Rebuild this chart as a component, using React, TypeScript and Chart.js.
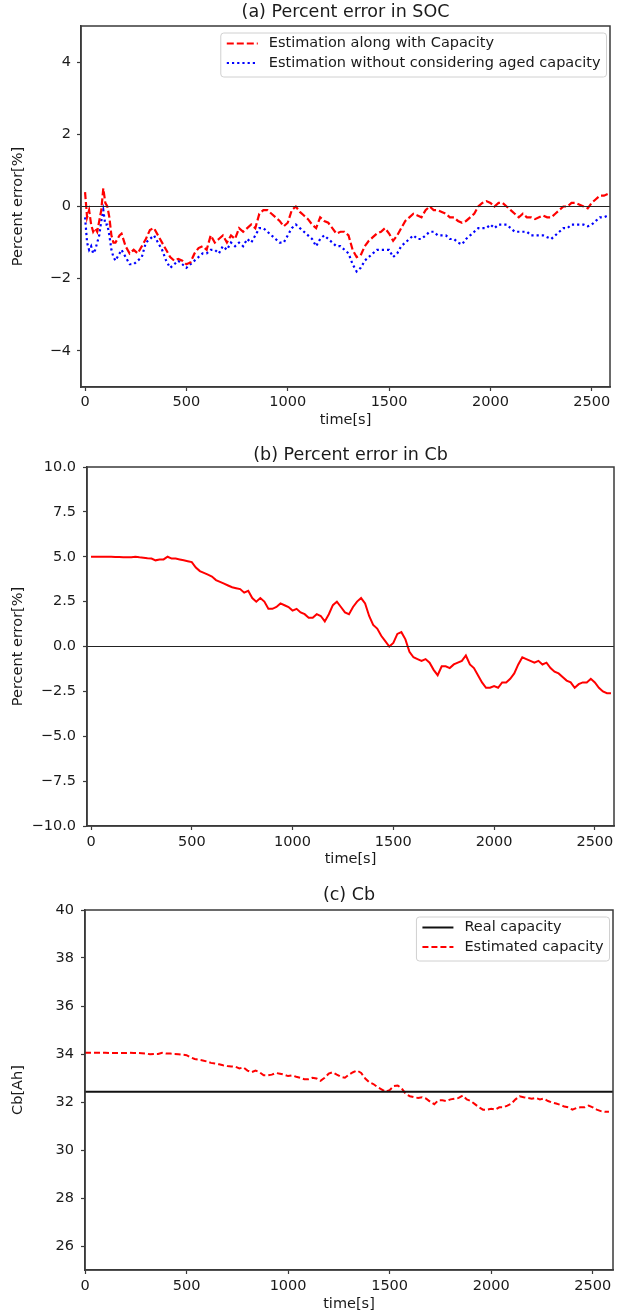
import React, { useEffect, useRef } from "react";
import { Chart, registerables } from "chart.js";

Chart.register(...registerables);

const FONT = "'DejaVu Sans', 'Liberation Sans', sans-serif";
const TEXT = "#1a1a1a";
const AXIS = "#3a3a3a";

// ---------------- (a) Percent error in SOC ----------------
const socTimes: number[] = [
  0, 10, 20, 30, 40, 50, 60, 70, 80, 90, 100, 110, 120, 130, 140, 150, 160, 170, 180,
  ...Array.from({ length: 120 }, (_, i) => 200 + i * 20),
];
const socErrWithCapacity: number[] = [
  0.4, -0.3, -0.1, -0.5, -0.7, -0.6, -0.7, -0.4, -0.1, 0.5, 0.1, 0.0, -0.3, -0.8, -1.0, -1.0, -0.9, -0.8, -0.75,
  -1.1, -1.3, -1.2, -1.3, -1.1, -0.9, -0.65, -0.6, -0.8, -1.0,
  -1.2, -1.4, -1.5, -1.45, -1.5, -1.6, -1.55, -1.3, -1.15, -1.1,
  -1.2, -0.8, -1.0, -0.9, -0.8, -1.0, -0.8, -0.9, -0.6, -0.7,
  -0.6, -0.5, -0.6, -0.2, -0.1, -0.1, -0.2, -0.3, -0.4, -0.55,
  -0.45, -0.1, 0.0, -0.15, -0.25, -0.35, -0.5, -0.6, -0.3, -0.4,
  -0.45, -0.6, -0.75, -0.7, -0.7, -0.8, -1.2, -1.4, -1.35, -1.1,
  -0.95, -0.85, -0.75, -0.7, -0.6, -0.75, -0.95, -0.8, -0.6, -0.4,
  -0.3, -0.2, -0.25, -0.3, -0.1, 0.0, -0.1, -0.1, -0.15, -0.2,
  -0.3, -0.3, -0.4, -0.45, -0.4, -0.3, -0.2, 0.0, 0.1, 0.15,
  0.1, 0.0, 0.1, 0.1, 0.0, -0.1, -0.2, -0.3, -0.2, -0.3,
  -0.3, -0.35, -0.3, -0.25, -0.3, -0.3, -0.2, -0.1, 0.0, 0.0,
  0.1, 0.1, 0.05, 0.0, -0.05, 0.1, 0.2, 0.3, 0.3, 0.35,
];
const socErrWithoutAged: number[] = [
  -0.3, -1.0, -1.2, -1.1, -1.3, -1.2, -1.0, -0.8, -0.4, -0.1, -0.5, -0.5, -0.8, -1.2, -1.4, -1.5, -1.4, -1.3, -1.2,
  -1.4, -1.6, -1.6, -1.5, -1.4, -1.0, -0.9, -0.8, -1.0, -1.2,
  -1.5, -1.7, -1.6, -1.5, -1.6, -1.7, -1.6, -1.5, -1.4, -1.3,
  -1.3, -1.2, -1.2, -1.3, -1.1, -1.2, -1.0, -1.1, -1.0, -1.1,
  -0.9, -1.0, -0.8, -0.6, -0.6, -0.7, -0.8, -0.9, -1.0, -1.0,
  -0.8, -0.6, -0.5, -0.6, -0.7, -0.8, -0.9, -1.1, -0.9, -0.8,
  -0.9, -1.0, -1.1, -1.1, -1.2, -1.3, -1.6, -1.8, -1.7, -1.5,
  -1.4, -1.3, -1.2, -1.2, -1.2, -1.2, -1.4, -1.3, -1.1, -1.0,
  -0.9, -0.8, -0.9, -0.9, -0.8, -0.7, -0.7, -0.8, -0.8, -0.8,
  -0.9, -0.9, -1.0, -1.05, -0.9, -0.8, -0.7, -0.6, -0.6, -0.6,
  -0.5, -0.6, -0.5, -0.5, -0.5, -0.6, -0.7, -0.7, -0.7, -0.7,
  -0.8, -0.8, -0.8, -0.8, -0.85, -0.9, -0.8, -0.7, -0.6, -0.6,
  -0.5, -0.5, -0.5, -0.5, -0.55, -0.5, -0.4, -0.3, -0.3, -0.25,
];

// ---------------- (b) Percent error in Cb ----------------
const cbTimes: number[] = Array.from({ length: 130 }, (_, i) => i * 20);
const cbPercentError: number[] = [
  5.0, 5.0, 5.0, 5.0, 5.0, 5.0, 4.98, 4.98, 4.97, 4.97,
  4.97, 5.0, 4.97, 4.95, 4.92, 4.9, 4.8, 4.85, 4.85, 5.0,
  4.9, 4.9, 4.85, 4.8, 4.75, 4.7, 4.4, 4.2, 4.1, 4.0,
  3.9, 3.7, 3.6, 3.5, 3.4, 3.3, 3.25, 3.2, 3.0, 3.1,
  2.7, 2.5, 2.7, 2.5, 2.1, 2.1, 2.2, 2.4, 2.3, 2.2,
  2.0, 2.1, 1.9, 1.8, 1.6, 1.6, 1.8, 1.7, 1.4, 1.8,
  2.3, 2.5, 2.2, 1.9, 1.8, 2.2, 2.5, 2.7, 2.4, 1.7,
  1.2, 1.0, 0.6, 0.3, 0.0, 0.2, 0.7, 0.8, 0.4, -0.3,
  -0.6, -0.7, -0.8, -0.7, -0.9, -1.3, -1.6, -1.1, -1.1, -1.2,
  -1.0, -0.9, -0.8, -0.5, -1.0, -1.2, -1.6, -2.0, -2.3, -2.3,
  -2.2, -2.3, -2.0, -2.0, -1.8, -1.5, -1.0, -0.6, -0.7, -0.8,
  -0.9, -0.8, -1.0, -0.9, -1.2, -1.4, -1.5, -1.7, -1.9, -2.0,
  -2.3, -2.1, -2.0, -2.0, -1.8, -2.0, -2.3, -2.5, -2.6, -2.6,
];

// ---------------- (c) Cb ----------------
const REAL_CAPACITY = 32.43;
const realCapacityTimes: number[] = [0, 2600];
const estimatedCapacity: number[] = [
  34.05, 34.05, 34.05, 34.05, 34.05, 34.05, 34.04, 34.04, 34.04, 34.04,
  34.04, 34.05, 34.04, 34.04, 34.03, 34.02, 33.99, 34.0, 34.0, 34.05,
  34.02, 34.02, 34.0, 33.99, 33.97, 33.95, 33.86, 33.79, 33.76, 33.73,
  33.69, 33.63, 33.6, 33.57, 33.53, 33.5, 33.48, 33.47, 33.4, 33.44,
  33.31, 33.24, 33.31, 33.24, 33.11, 33.11, 33.14, 33.21, 33.18, 33.14,
  33.08, 33.11, 33.05, 33.01, 32.95, 32.95, 33.01, 32.98, 32.88, 33.01,
  33.18, 33.24, 33.14, 33.05, 33.01, 33.14, 33.24, 33.31, 33.21, 32.98,
  32.82, 32.75, 32.62, 32.53, 32.43, 32.49, 32.66, 32.69, 32.56, 32.33,
  32.24, 32.2, 32.17, 32.2, 32.14, 32.01, 31.91, 32.07, 32.07, 32.04,
  32.11, 32.14, 32.17, 32.27, 32.11, 32.04, 31.91, 31.78, 31.68, 31.68,
  31.72, 31.68, 31.78, 31.78, 31.85, 31.94, 32.11, 32.24, 32.2, 32.17,
  32.14, 32.17, 32.11, 32.14, 32.04, 31.98, 31.94, 31.88, 31.81, 31.78,
  31.68, 31.75, 31.78, 31.78, 31.85, 31.78, 31.68, 31.62, 31.59, 31.59,
];

// ---------------- axes ----------------
const xTicks: number[] = [0, 500, 1000, 1500, 2000, 2500];
const yTicksA: number[] = [-4, -2, 0, 2, 4];
const yTicksB: number[] = [-10, -7.5, -5, -2.5, 0, 2.5, 5, 7.5, 10];
const yTicksC: number[] = [26, 28, 30, 32, 34, 36, 38, 40];

const pts = (xs: number[], ys: number[]) => ys.map((y, i) => ({ x: xs[i], y }));
const minus = (s: string) => s.replace("-", "\u2212");

const decorPlugin = {
  id: "mplDecor",
  afterDraw(chart: any, _args: any, opts: any) {
    const { ctx, chartArea: a } = chart;
    ctx.save();
    // frame (four spines)
    ctx.strokeStyle = AXIS;
    ctx.lineWidth = 1.5;
    ctx.setLineDash([]);
    ctx.strokeRect(a.left, a.top, a.right - a.left, a.bottom - a.top);
    // title
    ctx.fillStyle = TEXT;
    ctx.font = `17.5px ${FONT}`;
    ctx.textAlign = "center";
    ctx.textBaseline = "middle";
    ctx.fillText(opts.title, (a.left + a.right) / 2, opts.titleY);
    // legend
    const items = chart.data.datasets.filter((d: any) => d.inLegend);
    if (items.length) {
      ctx.font = `14.5px ${FONT}`;
      const maxW = Math.max(...items.map((d: any) => ctx.measureText(d.label).width));
      const padX = 6, sampleW = 31, gap = 11, rowH = 19.5, padTop = 10.5;
      const w = padX + sampleW + gap + maxW + padX;
      const h = items.length * rowH + 5;
      const right = a.right - 3.5;
      const top = a.top + 7;
      const left = right - w;
      ctx.beginPath();
      if (ctx.roundRect) ctx.roundRect(left, top, w, h, 3);
      else ctx.rect(left, top, w, h);
      ctx.fillStyle = "rgba(255,255,255,0.85)";
      ctx.fill();
      ctx.strokeStyle = "#d0d0d0";
      ctx.lineWidth = 1;
      ctx.stroke();
      items.forEach((d: any, i: number) => {
        const y = top + padTop + i * rowH;
        ctx.strokeStyle = d.borderColor;
        ctx.lineWidth = d.borderWidth;
        ctx.setLineDash(d.borderDash || []);
        ctx.beginPath();
        ctx.moveTo(left + padX, y);
        ctx.lineTo(left + padX + sampleW, y);
        ctx.stroke();
        ctx.setLineDash([]);
        ctx.fillStyle = TEXT;
        ctx.textAlign = "left";
        ctx.textBaseline = "middle";
        ctx.fillText(d.label, left + padX + sampleW + gap, y);
      });
    }
    ctx.restore();
  },
};

type Spec = {
  height: number;
  padTop: number;
  padRight: number;
  yWidth: number;
  xHeight: number;
  xMin: number;
  xMax: number;
  yMin: number;
  yMax: number;
  yTicks: number[];
  yFmt: (v: number) => string;
  yTickPad: number;
  xTickPad: number;
  xTitlePadBottom: number;
  yLabel: string;
  title: string;
  titleY: number;
  datasets: any[];
};

function makeConfig(s: Spec): any {
  const font = { family: FONT, size: 14.5 };
  return {
    type: "line",
    data: { datasets: s.datasets },
    plugins: [decorPlugin],
    options: {
      animation: false,
      responsive: false,
      maintainAspectRatio: false,
      layout: { padding: { top: s.padTop, right: s.padRight, left: 0, bottom: 0 } },
      elements: { point: { radius: 0 }, line: { tension: 0 } },
      plugins: {
        legend: { display: false },
        tooltip: { enabled: false },
        title: { display: false },
        mplDecor: { title: s.title, titleY: s.titleY },
      },
      scales: {
        x: {
          type: "linear",
          min: s.xMin,
          max: s.xMax,
          afterBuildTicks: (sc: any) => {
            sc.ticks = xTicks.map((v) => ({ value: v }));
          },
          afterFit: (sc: any) => {
            sc.height = s.xHeight;
          },
          ticks: {
            font,
            color: TEXT,
            padding: s.xTickPad,
            maxRotation: 0,
            autoSkip: false,
            callback: (v: number) => minus(String(v)),
          },
          grid: { drawOnChartArea: false, drawTicks: true, tickLength: 4, tickColor: AXIS, tickWidth: 1.2 },
          border: { display: true, color: AXIS, width: 1.5 },
          title: { display: true, text: "time[s]", font, color: TEXT, padding: { top: 0, bottom: s.xTitlePadBottom } },
        },
        y: {
          type: "linear",
          min: s.yMin,
          max: s.yMax,
          afterBuildTicks: (sc: any) => {
            sc.ticks = s.yTicks.map((v) => ({ value: v }));
          },
          afterFit: (sc: any) => {
            sc.width = s.yWidth;
          },
          ticks: { font, color: TEXT, padding: s.yTickPad, autoSkip: false, callback: (v: number) => s.yFmt(v) },
          grid: { drawOnChartArea: false, drawTicks: true, tickLength: 4, tickColor: AXIS, tickWidth: 1.2 },
          border: { display: true, color: AXIS, width: 1.5 },
          title: { display: true, text: s.yLabel, font, color: TEXT, padding: { top: 9.6, bottom: 0 } },
        },
      },
    },
  };
}

function ChartCanvas({ config, top, height }: { config: any; top: number; height: number }) {
  const ref = useRef<HTMLCanvasElement>(null);
  useEffect(() => {
    const chart = new Chart(ref.current as HTMLCanvasElement, config);
    return () => chart.destroy();
  }, []);
  return (
    <canvas
      ref={ref}
      width={623}
      height={height}
      style={{ position: "absolute", left: 0, top, width: 623, height, display: "block" }}
    />
  );
}

const X_MIN_A = -20, X_MAX_A = 2590;
const X_MIN_B = -20, X_MAX_B = 2595;
const X_MIN_C = 0, X_MAX_C = 2600;

const configA = makeConfig({
  height: 438,
  padTop: 26,
  padRight: 13,
  yWidth: 81,
  xHeight: 51,
  xMin: X_MIN_A,
  xMax: X_MAX_A,
  yMin: -5,
  yMax: 5,
  yTicks: yTicksA,
  yFmt: (v) => minus(String(v)),
  yTickPad: 6,
  xTickPad: 3,
  xTitlePadBottom: 8.6,
  yLabel: "Percent error[%]",
  title: "(a) Percent error in SOC",
  titleY: 12,
  datasets: [
    {
      label: "zero",
      data: [{ x: X_MIN_A, y: 0 }, { x: X_MAX_A, y: 0 }],
      borderColor: "#222222",
      borderWidth: 1.2,
    },
    {
      label: "Estimation along with Capacity",
      inLegend: true,
      data: pts(socTimes, socErrWithCapacity),
      borderColor: "#ff0000",
      borderWidth: 2.2,
      borderDash: [7, 3],
    },
    {
      label: "Estimation without considering aged capacity",
      inLegend: true,
      data: pts(socTimes, socErrWithoutAged),
      borderColor: "#0000ff",
      borderWidth: 2.2,
      borderDash: [2.2, 3],
    },
  ],
});

const configB = makeConfig({
  height: 438,
  padTop: 29,
  padRight: 9,
  yWidth: 87,
  xHeight: 50,
  xMin: X_MIN_B,
  xMax: X_MAX_B,
  yMin: -10,
  yMax: 10,
  yTicks: yTicksB,
  yFmt: (v) => minus(v.toFixed(1)),
  yTickPad: 7,
  xTickPad: 4,
  xTitlePadBottom: 7.6,
  yLabel: "Percent error[%]",
  title: "(b) Percent error in Cb",
  titleY: 17,
  datasets: [
    {
      label: "zero",
      data: [{ x: X_MIN_B, y: 0 }, { x: X_MAX_B, y: 0 }],
      borderColor: "#222222",
      borderWidth: 1.2,
    },
    {
      label: "Percent error in Cb",
      data: pts(cbTimes, cbPercentError),
      borderColor: "#ff0000",
      borderWidth: 2,
    },
  ],
});

const configC = makeConfig({
  height: 439,
  padTop: 34,
  padRight: 10,
  yWidth: 85,
  xHeight: 45,
  xMin: X_MIN_C,
  xMax: X_MAX_C,
  yMin: 25,
  yMax: 40,
  yTicks: yTicksC,
  yFmt: (v) => minus(String(v)),
  yTickPad: 7,
  xTickPad: 4,
  xTitlePadBottom: 1.6,
  yLabel: "Cb[Ah]",
  title: "(c) Cb",
  titleY: 19,
  datasets: [
    {
      label: "Real capacity",
      inLegend: true,
      data: realCapacityTimes.map((x) => ({ x, y: REAL_CAPACITY })),
      borderColor: "#111111",
      borderWidth: 2,
    },
    {
      label: "Estimated capacity",
      inLegend: true,
      data: pts(cbTimes, estimatedCapacity),
      borderColor: "#ff0000",
      borderWidth: 2,
      borderDash: [6, 3],
    },
  ],
});

export default function App() {
  return (
    <div style={{ position: "absolute", left: 0, top: 0, width: 623, height: 1315, background: "#ffffff" }}>
      <ChartCanvas config={configA} top={0} height={438} />
      <ChartCanvas config={configB} top={438} height={438} />
      <ChartCanvas config={configC} top={876} height={439} />
    </div>
  );
}
